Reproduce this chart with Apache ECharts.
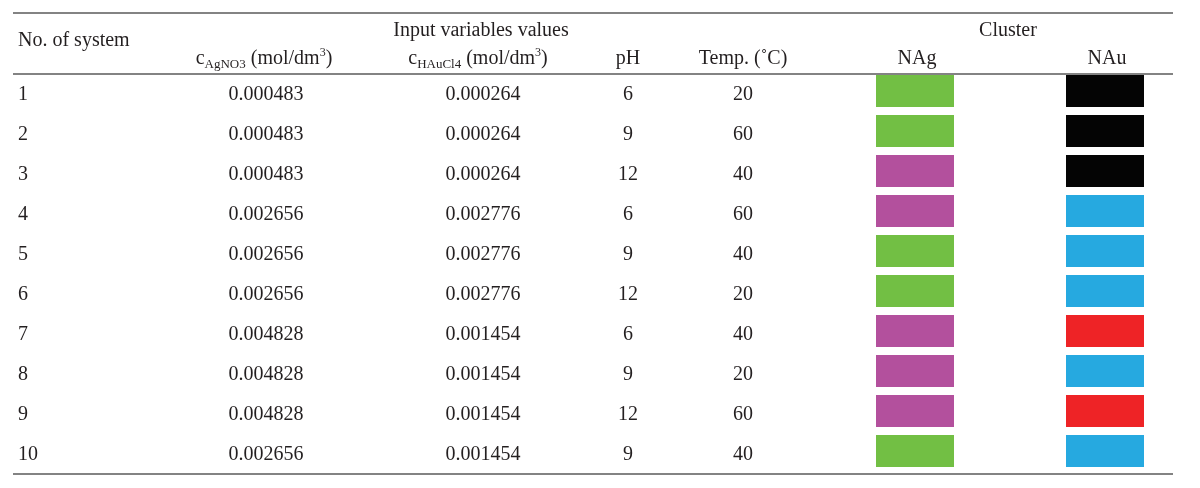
<!DOCTYPE html>
<html>
<head>
<meta charset="utf-8">
<script src="https://cdn.jsdelivr.net/npm/echarts@6/dist/echarts.min.js"></script>
<style>
html,body{margin:0;padding:0;background:#fff;}
#chart{width:1200px;height:488px;}
</style>
</head>
<body>
<div id="chart"></div>
<script>
// ---- data ----
const systems = ['1','2','3','4','5','6','7','8','9','10'];
const cAgNO3 = ['0.000483','0.000483','0.000483','0.002656','0.002656','0.002656','0.004828','0.004828','0.004828','0.002656'];
const cHAuCl4 = ['0.000264','0.000264','0.000264','0.002776','0.002776','0.002776','0.001454','0.001454','0.001454','0.001454'];
const pH = ['6','9','12','6','9','12','6','9','12','9'];
const temp = ['20','60','40','60','40','20','40','20','60','40'];
const clusterNAg = ['green','green','magenta','magenta','green','green','magenta','magenta','magenta','green'];
const clusterNAu = ['black','black','black','blue','blue','blue','red','blue','red','blue'];

// ---- styles / layout ----
const clusterColor = {green:'#72bf44', magenta:'#b3509d', black:'#040404', blue:'#26a9e0', red:'#ee2326'};
const FONT = '"Liberation Serif","Times New Roman",serif';
const TXT = '#231f20';
const LINE = '#5a5a5a';
const colX = {sys:18, ag:266, au:483, ph:628, temp:743, nag:915, nau:1105};

function textSeries(x, values, leftAlign){
  return {
    type:'scatter', symbolSize:2, silent:true,
    itemStyle:{color:'rgba(255,255,255,0)', opacity:1},
    data: values.map((v,i)=>({value:[x, i], name:v})),
    label:{show:true, position: leftAlign ? 'right' : 'inside', distance:0, offset:[leftAlign ? -1 : 0, 1],
      formatter:p=>p.name, color:TXT, opacity:1, textBorderWidth:0, textBorderColor:'transparent',
      fontFamily:FONT, fontSize:20}
  };
}
function boxSeries(x, clusters){
  return {
    type:'scatter', symbol:'rect', symbolSize:[78,32], symbolOffset:[0,-3], silent:true,
    data: clusters.map((c,i)=>({value:[x,i], itemStyle:{color:clusterColor[c], opacity:1}})),
    label:{show:false}
  };
}
const rich = {
  m:{fontSize:20, fontFamily:FONT, color:TXT, lineHeight:24},
  s:{fontSize:13, fontFamily:FONT, color:TXT, lineHeight:10, verticalAlign:'bottom'},
  p:{fontSize:12, fontFamily:FONT, color:TXT, lineHeight:12, verticalAlign:'top'}
};
function hText(t, x, y, align){
  return {type:'text', silent:true, style:{text:t, x:x, y:y, align:align||'center', verticalAlign:'middle',
    font:'20px '+FONT, fill:TXT}};
}
function hRich(t, x, y){
  return {type:'text', silent:true, style:{text:t, x:x, y:y, align:'center', verticalAlign:'middle',
    font:'20px '+FONT, fill:TXT, rich:rich}};
}
function hLine(y){
  return {type:'line', silent:true, shape:{x1:13, y1:y, x2:1173, y2:y}, style:{stroke:LINE, lineWidth:1.6}};
}

const chart = echarts.init(document.getElementById('chart'));
chart.setOption({
  animation:false,
  backgroundColor:'#fff',
  grid:{left:0, right:0, top:74, height:400},
  xAxis:{type:'value', min:0, max:1200, show:false},
  yAxis:{type:'category', data:systems, inverse:true, show:false},
  series:[
    textSeries(colX.sys, systems, true),
    textSeries(colX.ag, cAgNO3),
    textSeries(colX.au, cHAuCl4),
    textSeries(colX.ph, pH),
    textSeries(colX.temp, temp),
    boxSeries(colX.nag, clusterNAg),
    boxSeries(colX.nau, clusterNAu)
  ],
  graphic:[
    hLine(13), hLine(74), hLine(474),
    hText('No. of system', 18, 41, 'left'),
    hText('Input variables values', 481, 31),
    hText('Cluster', 1008, 31),
    hRich('{m|c}{s|AgNO3}{m| (mol/dm}{p|3}{m|)}', 264, 59),
    hRich('{m|c}{s|HAuCl4}{m| (mol/dm}{p|3}{m|)}', 478, 59),
    hText('pH', 628, 59),
    hText('Temp. (\u02DAC)', 743, 59),
    hText('NAg', 917, 59),
    hText('NAu', 1107, 59)
  ]
});
</script>
</body>
</html>
